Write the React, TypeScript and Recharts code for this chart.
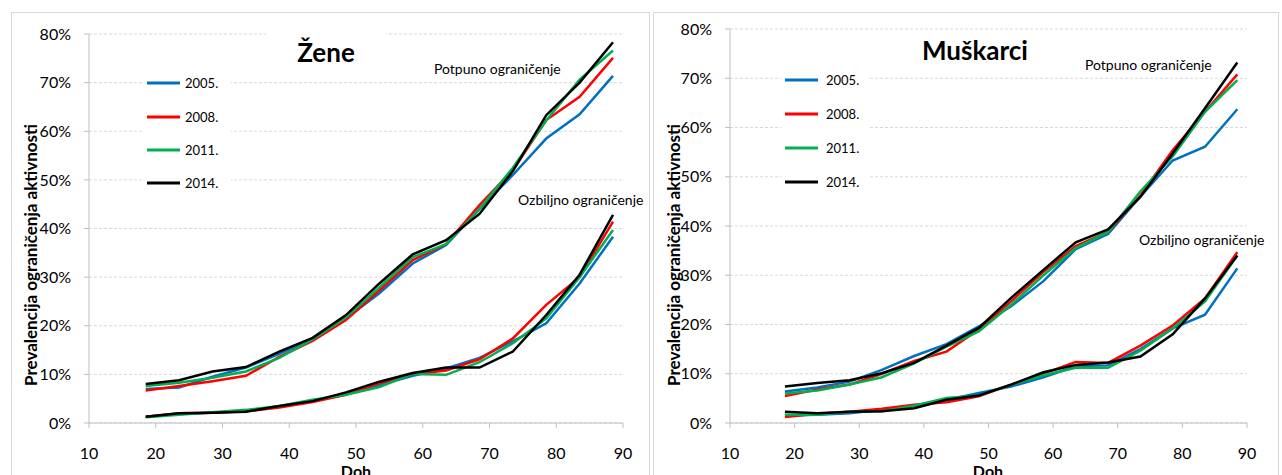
import React from "react";
import { LineChart, Line, XAxis, YAxis, CartesianGrid } from "recharts";

// dobne skupine (sredina razreda), x os i y os
const ages = [18.5, 23.5, 28.5, 33.5, 38.5, 43.5, 48.5, 53.5, 58.5, 63.5, 68.5, 73.5, 78.5, 83.5, 88.5];
const xTicks = [10, 20, 30, 40, 50, 60, 70, 80, 90];
const yTicks = [0, 10, 20, 30, 40, 50, 60, 70, 80];
const years = ["2005.", "2008.", "2011.", "2014."];
const colors = ["#0070C0", "#FF0000", "#00B050", "#000000"];

// Žene - potpuno ograničenje (%)
const zenePotpuno2005 = [7.0, 7.3, 9.5, 11.4, 14.2, 17.3, 21.5, 26.7, 32.8, 36.6, 44.0, 51.0, 58.5, 63.5, 71.4];
const zenePotpuno2008 = [6.7, 7.6, 8.6, 9.7, 13.6, 16.9, 21.2, 27.3, 33.5, 36.8, 44.8, 52.0, 62.3, 67.1, 75.1];
const zenePotpuno2011 = [7.6, 8.3, 9.3, 10.6, 13.4, 17.2, 21.7, 27.9, 34.1, 36.8, 44.0, 52.5, 62.2, 70.6, 76.6];
const zenePotpuno2014 = [8.0, 8.8, 10.6, 11.5, 14.7, 17.5, 22.2, 28.7, 34.7, 37.6, 43.0, 51.8, 63.3, 70.0, 78.3];

// Žene - ozbiljno ograničenje (%)
const zeneOzbiljno2005 = [1.3, 1.9, 2.1, 2.5, 3.4, 4.5, 6.0, 7.8, 9.7, 11.2, 13.4, 16.8, 20.5, 28.7, 38.3];
const zeneOzbiljno2008 = [1.3, 2.0, 2.1, 2.4, 3.2, 4.3, 5.8, 8.2, 10.0, 10.8, 13.1, 17.4, 24.3, 30.0, 41.4];
const zeneOzbiljno2011 = [1.2, 1.7, 2.2, 2.7, 3.5, 4.8, 5.8, 7.4, 10.1, 9.9, 12.5, 16.4, 21.5, 30.0, 39.7];
const zeneOzbiljno2014 = [1.3, 2.0, 2.1, 2.3, 3.5, 4.5, 6.3, 8.5, 10.3, 11.4, 11.4, 14.7, 22.2, 30.5, 42.8];

// Muškarci - potpuno ograničenje (%)
const muskarciPotpuno2005 = [6.4, 7.2, 8.4, 10.8, 13.6, 16.0, 19.6, 23.7, 28.8, 35.3, 38.4, 46.0, 53.3, 56.1, 63.7];
const muskarciPotpuno2008 = [5.5, 6.8, 7.8, 10.0, 12.6, 14.5, 19.0, 24.7, 30.7, 35.9, 38.8, 46.2, 55.4, 63.2, 70.8];
const muskarciPotpuno2011 = [6.0, 6.6, 7.8, 9.3, 12.1, 15.5, 18.6, 24.0, 30.0, 35.5, 38.8, 47.0, 54.1, 63.2, 69.6];
const muskarciPotpuno2014 = [7.4, 8.1, 8.7, 10.1, 12.2, 15.7, 19.3, 25.4, 31.1, 36.7, 39.3, 45.9, 54.7, 63.9, 73.2];

// Muškarci - ozbiljno ograničenje (%)
const muskarciOzbiljno2005 = [1.5, 1.7, 2.0, 2.7, 3.5, 4.7, 6.1, 7.4, 9.3, 11.5, 11.7, 15.0, 19.2, 22.0, 31.4];
const muskarciOzbiljno2008 = [1.2, 1.9, 2.3, 2.9, 3.7, 4.2, 5.4, 7.8, 10.0, 12.4, 12.2, 15.7, 19.8, 25.3, 34.7];
const muskarciOzbiljno2011 = [1.7, 1.7, 2.3, 2.4, 3.5, 5.1, 5.6, 7.8, 9.7, 11.2, 11.2, 14.7, 19.2, 24.7, 34.0];
const muskarciOzbiljno2014 = [2.3, 2.0, 2.3, 2.4, 3.0, 4.7, 5.6, 7.8, 10.3, 11.8, 12.3, 13.5, 18.0, 25.3, 34.0];

const FONT = 'Lato, "Open Sans", sans-serif';
const GRID = "#d9d9d9";
const AXIS = "#bfbfbf";

function buildRows(potpuno: number[][], ozbiljno: number[][]) {
  return ages.map((age, i) => {
    const row: Record<string, number> = { age };
    years.forEach((_, s) => {
      row[`p${s}`] = potpuno[s][i];
      row[`o${s}`] = ozbiljno[s][i];
    });
    return row;
  });
}

const zeneRows = buildRows(
  [zenePotpuno2005, zenePotpuno2008, zenePotpuno2011, zenePotpuno2014],
  [zeneOzbiljno2005, zeneOzbiljno2008, zeneOzbiljno2011, zeneOzbiljno2014]
);
const muskarciRows = buildRows(
  [muskarciPotpuno2005, muskarciPotpuno2008, muskarciPotpuno2011, muskarciPotpuno2014],
  [muskarciOzbiljno2005, muskarciOzbiljno2008, muskarciOzbiljno2011, muskarciOzbiljno2014]
);

type PanelLayout = {
  frame: { left: number; top: number; width: number };
  chartLeft: number;
  chartWidth: number;
  margin: { top: number; right: number; left: number; bottom: number };
  title: { x: number; y: number; box?: [number, number, number, number] };
  legend: { box: [number, number, number, number]; lineX: number; textX: number; rows: number[] };
  potpuno: [number, number];
  ozbiljno: [number, number];
  yLabel: [number, number];
  doh: number;
};

const tickStyle = { fill: "#000", fontSize: 16, fontFamily: FONT };

function Panel({ title, rows, layout }: { title: string; rows: Record<string, number>[]; layout: PanelLayout }) {
  const { frame, legend } = layout;
  return (
    <>
      <div
        style={{
          position: "absolute", left: frame.left, top: frame.top, width: frame.width, height: 500,
          border: "1px solid #d9d9d9", boxSizing: "border-box",
        }}
      />
      <div style={{ position: "absolute", left: layout.chartLeft, top: 0 }}>
        <LineChart width={layout.chartWidth} height={475} data={rows} margin={layout.margin}>
          <CartesianGrid vertical={false} stroke={GRID} strokeDasharray="3 2" />
          <XAxis
            dataKey="age" type="number" domain={[10, 90]} ticks={xTicks} height={30}
            stroke={AXIS} tickSize={5} tickMargin={20} tick={tickStyle} interval={0}
          />
          <YAxis
            type="number" domain={[0, 80]} ticks={yTicks} width={50} stroke={AXIS}
            tickSize={5} tickMargin={13} tick={tickStyle} tickFormatter={(v) => `${v}%`} interval={0}
          />
          {years.map((y, s) => (
            <Line key={`o${s}`} dataKey={`o${s}`} name={y} stroke={colors[s]} strokeWidth={2.5}
              dot={false} type="linear" isAnimationActive={false} />
          ))}
          {years.map((y, s) => (
            <Line key={`p${s}`} dataKey={`p${s}`} name={y} stroke={colors[s]} strokeWidth={2.5}
              dot={false} type="linear" isAnimationActive={false} />
          ))}
        </LineChart>
      </div>
      {/* naslovi, legenda i oznake skupina */}
      <svg width={1282} height={475} style={{ position: "absolute", left: 0, top: 0, pointerEvents: "none" }}>
        {layout.title.box && (
          <rect x={layout.title.box[0]} y={layout.title.box[1]} width={layout.title.box[2]} height={layout.title.box[3]} fill="#fff" />
        )}
        <text x={layout.title.x} y={layout.title.y} textAnchor="middle" fontFamily={FONT} fontWeight="bold" fontSize={26}>
          {title}
        </text>
        <rect x={legend.box[0]} y={legend.box[1]} width={legend.box[2]} height={legend.box[3]} fill="#fff" />
        {years.map((y, s) => (
          <g key={y}>
            <line x1={legend.lineX} x2={legend.lineX + 33} y1={legend.rows[s]} y2={legend.rows[s]} stroke={colors[s]} strokeWidth={3} />
            <text x={legend.textX} y={legend.rows[s] + 4.5} fontFamily={FONT} fontSize={13}>{y}</text>
          </g>
        ))}
        <text x={layout.potpuno[0]} y={layout.potpuno[1]} fontFamily={FONT} fontSize={14}>Potpuno ograničenje</text>
        <text x={layout.ozbiljno[0]} y={layout.ozbiljno[1]} fontFamily={FONT} fontSize={14}>Ozbiljno ograničenje</text>
        <text
          x={layout.yLabel[0]} y={layout.yLabel[1]} textAnchor="middle" dominantBaseline="central"
          transform={`rotate(-90 ${layout.yLabel[0]} ${layout.yLabel[1]})`}
          fontFamily={FONT} fontWeight="bold" fontSize={17}
        >
          Prevalencija ograničenja aktivnosti
        </text>
        <text x={layout.doh} y={477} textAnchor="middle" fontFamily={FONT} fontWeight="bold" fontSize={16}>Doh</text>
      </svg>
    </>
  );
}

const zeneLayout: PanelLayout = {
  frame: { left: 11, top: 12, width: 639 },
  chartLeft: 0,
  chartWidth: 650,
  margin: { top: 34, right: 27, left: 39, bottom: 22 },
  title: { x: 326, y: 62, box: [266, 30, 120, 38] },
  legend: { box: [143, 68, 88, 128], lineX: 147, textX: 185, rows: [83, 117, 150, 183] },
  potpuno: [434, 74],
  ozbiljno: [518, 205],
  yLabel: [30, 255],
  doh: 356,
};

const muskarciLayout: PanelLayout = {
  frame: { left: 653, top: 12, width: 626 },
  chartLeft: 650,
  chartWidth: 632,
  margin: { top: 29, right: 35, left: 30, bottom: 22 },
  title: { x: 975, y: 60 },
  legend: { box: [781, 66, 88, 128], lineX: 785, textX: 826, rows: [80, 114, 148, 182] },
  potpuno: [1085, 70],
  ozbiljno: [1139, 245],
  yLabel: [673, 255],
  doh: 988,
};

export default function App() {
  return (
    <div
      style={{
        position: "absolute", left: 0, top: 0, width: 1282, height: 475,
        overflow: "hidden", background: "#fff", fontFamily: FONT,
      }}
    >
      <Panel title="Žene" rows={zeneRows} layout={zeneLayout} />
      <Panel title="Muškarci" rows={muskarciRows} layout={muskarciLayout} />
    </div>
  );
}
